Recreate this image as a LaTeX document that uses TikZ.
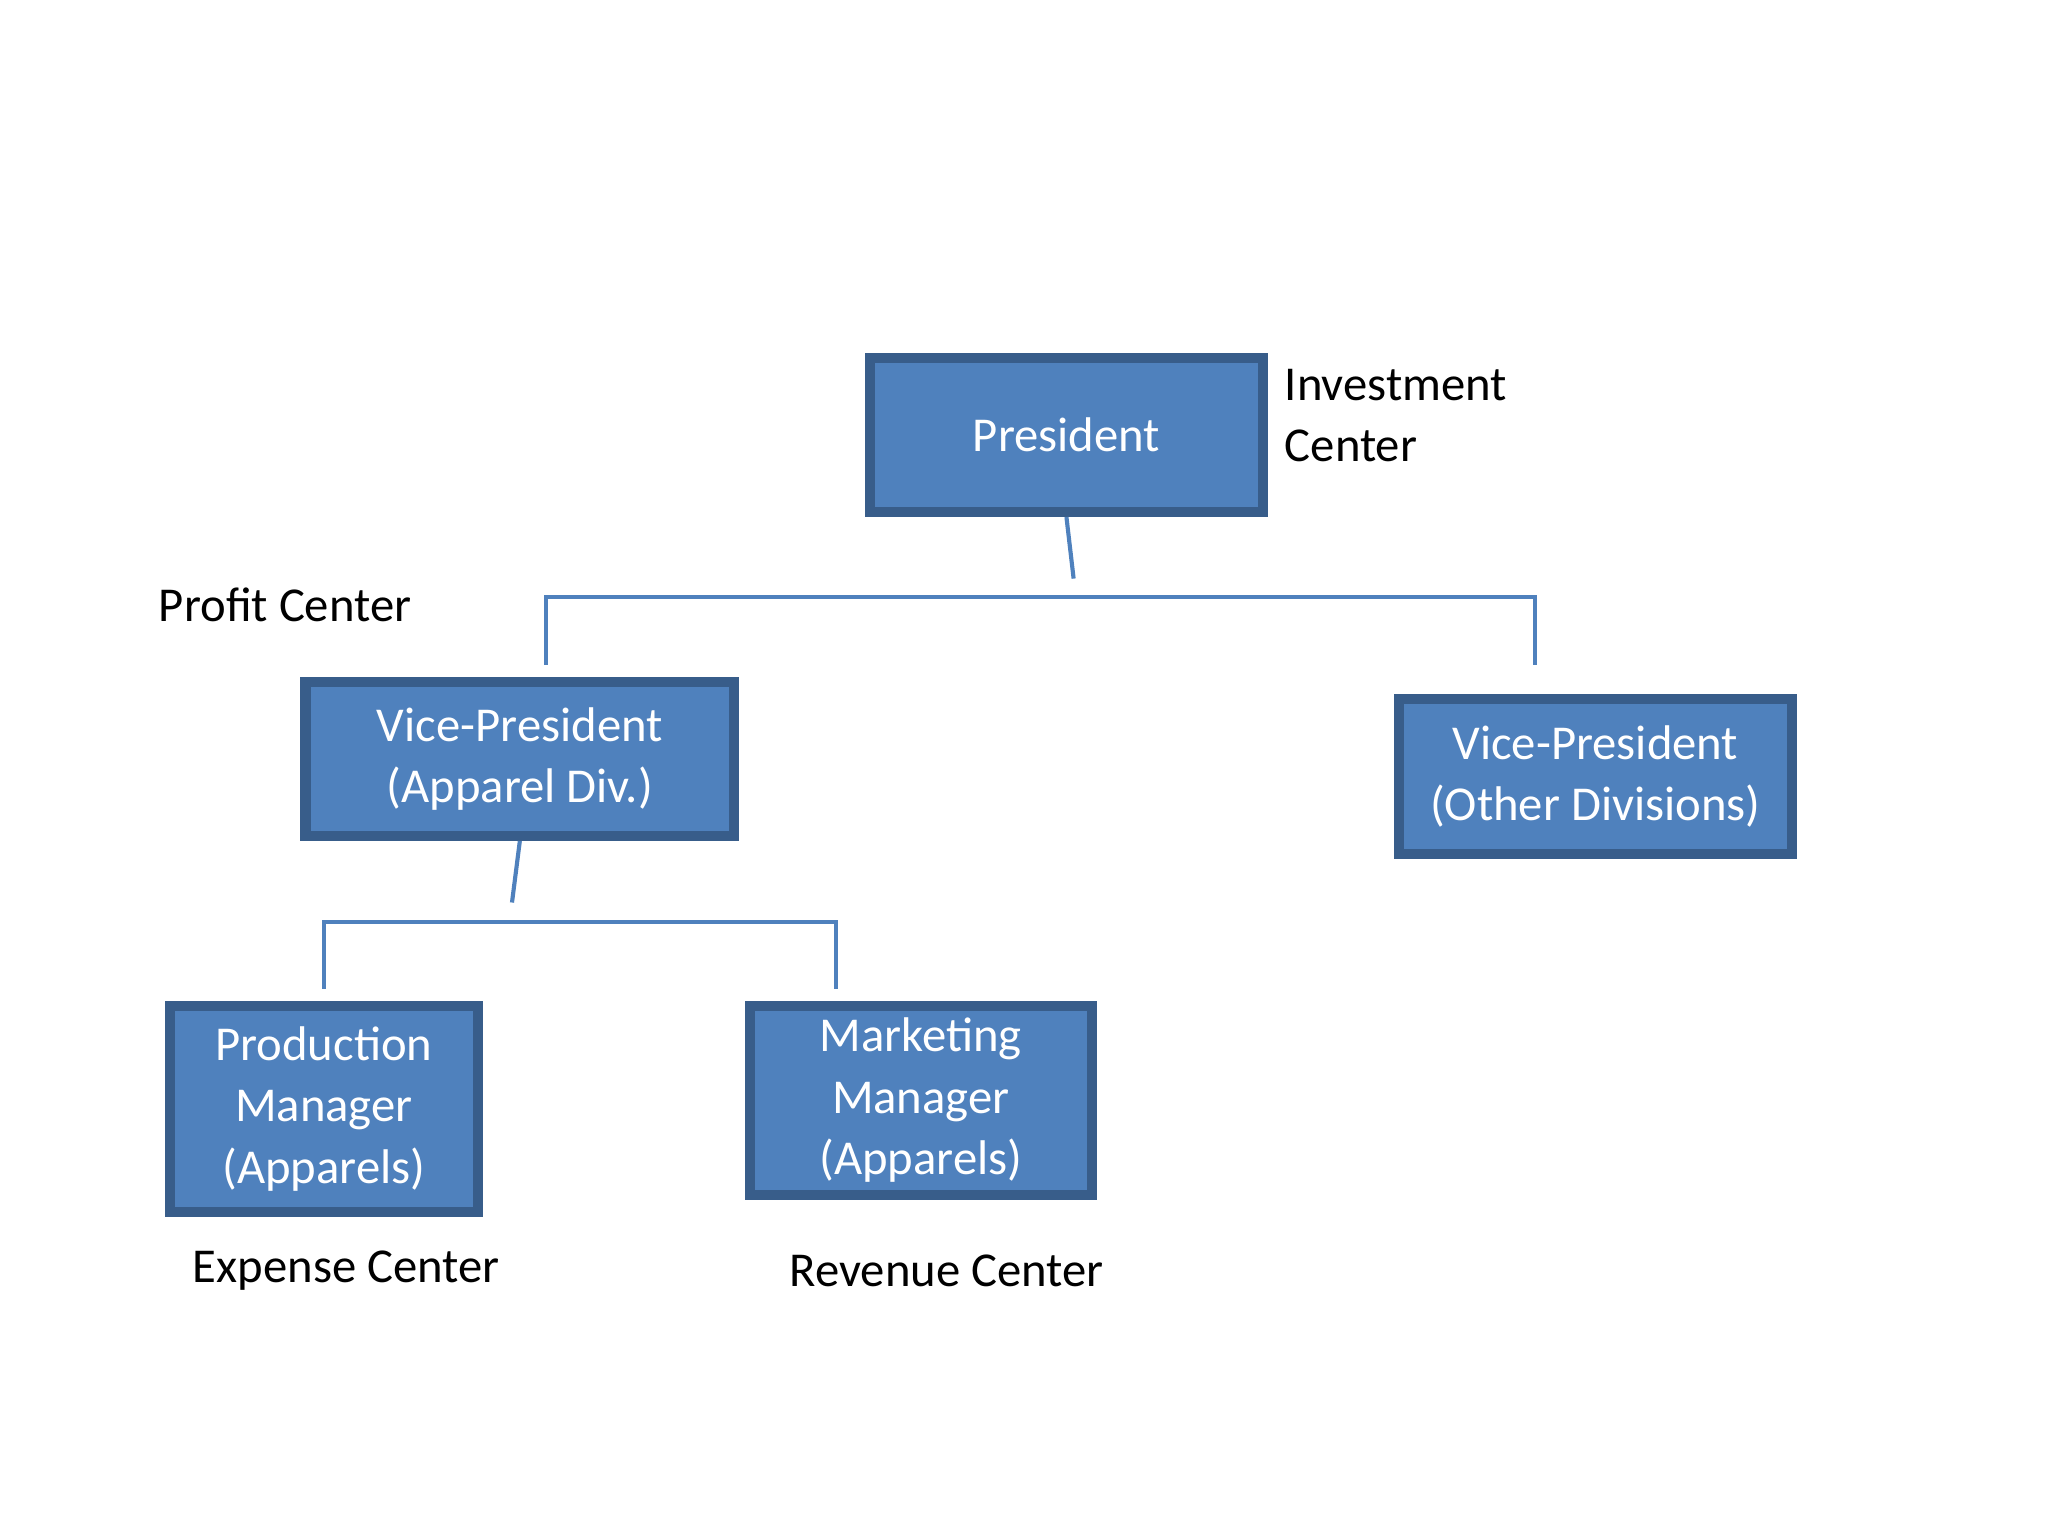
\documentclass[tikz,border=0pt]{standalone}
\usepackage{fontspec}
\setmainfont{Carlito}
\definecolor{boxfill}{HTML}{4F81BD}
\definecolor{boxline}{HTML}{385D8A}
\begin{document}
\begin{tikzpicture}[x=0.01cm,y=-0.01cm,
  box/.style={draw=boxline,line width=2.2pt,fill=boxfill,text=white,align=center,inner sep=0pt,font=\fontsize{10.6pt}{13.4pt}\selectfont},
  lab/.style={anchor=west,align=left,inner sep=0pt,font=\fontsize{10.6pt}{13.4pt}\selectfont},
  conn/.style={draw=boxfill,line width=0.9pt}]
\useasboundingbox (0,0) rectangle (1568,1176);
\node[box,minimum width=3.01cm,minimum height=1.18cm] (pres) at (816.5,333) {President};
\node[box,minimum width=3.28cm,minimum height=1.18cm] (vpa) at (398,581) {Vice-President\\(Apparel Div.)};
\node[box,minimum width=3.01cm,minimum height=1.19cm] (vpo) at (1221.5,594.5) {Vice-President\\(Other Divisions)};
\node[box,minimum width=2.36cm,minimum height=1.58cm] (prod) at (248,849) {Production\\Manager\\(Apparels)};
\node[box,minimum width=2.62cm,minimum height=1.45cm] (mark) at (705,842.5) {Marketing\\Manager\\(Apparels)};
\node[lab] (inv) at (983,318) {Investment\\Center};
\node[lab] (pc) at (121,463) {Profit Center};
\node[lab] (ec) at (147,973) {Expense Center};
\node[lab] (rc) at (604,973) {Revenue Center};
\coordinate (a1) at (822,443);
\coordinate (hl) at (418,457); \coordinate (hr) at (1175,457);
\coordinate (hld) at (418,509); \coordinate (hrd) at (1175,509);
\coordinate (b1) at (392,691);
\coordinate (gl) at (248,706); \coordinate (gr) at (640,706);
\coordinate (gld) at (248,757); \coordinate (grd) at (640,757);
\draw[conn] (pres.south) -- (a1);
\draw[conn] (hld) -- (hl) -- (hr) -- (hrd);
\draw[conn] (vpa.south) -- (b1);
\draw[conn] (gld) -- (gl) -- (gr) -- (grd);
\end{tikzpicture}
\end{document}
